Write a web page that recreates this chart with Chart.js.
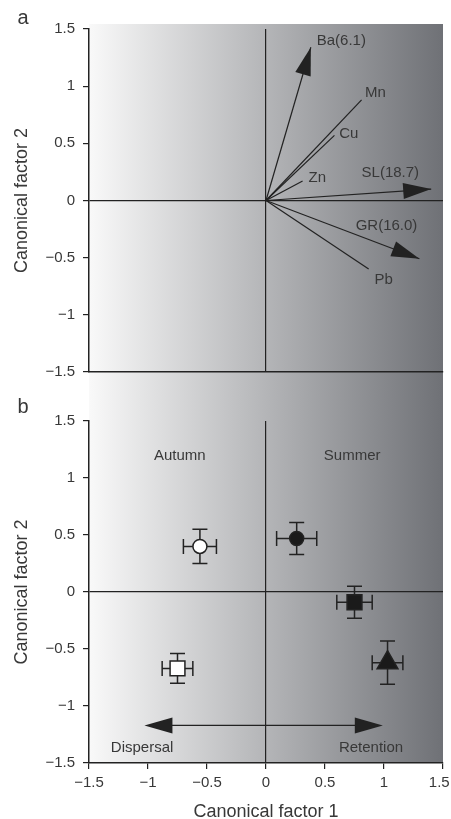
<!DOCTYPE html>
<html>
<head>
<meta charset="utf-8">
<script src="https://cdn.jsdelivr.net/npm/chart.js@4"></script>
<style>
  body { margin: 0; background: #fff; overflow: hidden; }
  #chartA { position: absolute; left: 0; top: 0; }
  #chartB { position: absolute; left: 0; top: 395px; }
</style>
</head>
<body>
<canvas id="chartA" width="451" height="395"></canvas>
<canvas id="chartB" width="451" height="430"></canvas>
<script>
// ---- panel a: canonical vectors ----
const vectorNames = ['Ba(6.1)', 'Mn', 'Cu', 'Zn', 'SL(18.7)', 'GR(16.0)', 'Pb'];
const vectorX = [0.38, 0.81, 0.58, 0.31, 1.40, 1.30, 0.87];
const vectorY = [1.34, 0.88, 0.57, 0.17, 0.10, -0.51, -0.60];
const vectorHead = [true, false, false, false, true, true, false];
const vectorLabelX = [0.43, 0.84, 0.62, 0.36, 0.81, 0.76, 0.92];
const vectorLabelY = [1.40, 0.945, 0.58, 0.20, 0.245, -0.22, -0.69];

// ---- panel b: group centroids with errors ----
const groupX = [-0.56, 0.26, 0.75, -0.75, 1.03];
const groupY = [0.40, 0.47, -0.09, -0.67, -0.62];
const groupXErr = [0.14, 0.17, 0.15, 0.13, 0.13];
const groupYErr = [0.15, 0.14, 0.14, 0.13, 0.19];
const groupShape = ['circle', 'circle', 'rect', 'rect', 'triangle'];
const groupFilled = [false, true, true, false, true];

const noteText = ['Autumn', 'Summer', 'Dispersal', 'Retention'];
const noteX = [-0.73, 0.73, -1.05, 0.89];
const noteY = [1.19, 1.19, -1.37, -1.37];
const gradientSpan = [-1.03, 0.99];
const gradientLevel = -1.17;

const axisTicks = [-1.5, -1, -0.5, 0, 0.5, 1, 1.5];

const FONT = "'Liberation Sans', Arial, sans-serif";
const TEXT = '#383838';
const INK = '#222222';

function fmtTick(v) {
  const r = Math.round(v * 10) / 10;
  return r < 0 ? '\u2212' + Math.abs(r) : String(r);
}

function drawHead(ctx, x0, y0, x1, y1, len, half) {
  const a = Math.atan2(y1 - y0, x1 - x0);
  const bx = x1 - len * Math.cos(a), by = y1 - len * Math.sin(a);
  const px = -Math.sin(a) * half, py = Math.cos(a) * half;
  ctx.beginPath();
  ctx.moveTo(x1, y1);
  ctx.lineTo(bx + px, by + py);
  ctx.lineTo(bx - px, by - py);
  ctx.closePath();
  ctx.fill();
}

// grey shading behind the plot, continuous across both panels
const shadePlugin = {
  id: 'shade',
  beforeDraw(chart, args, opts) {
    const { ctx, chartArea: a } = chart;
    const top = opts.fromCanvasTop ? 0 : a.top - 5;
    const bottom = opts.toCanvasBottom ? chart.height : a.bottom;
    const g = ctx.createLinearGradient(a.left, 0, a.right, 0);
    g.addColorStop(0, '#f9f9f9');
    g.addColorStop(1, '#6f7176');
    ctx.save();
    ctx.fillStyle = g;
    ctx.fillRect(a.left, top, a.right - a.left, bottom - top);
    ctx.restore();
  }
};

const letterPlugin = {
  id: 'letter',
  afterDraw(chart, args, opts) {
    const ctx = chart.ctx;
    ctx.save();
    ctx.font = '20px ' + FONT;
    ctx.fillStyle = TEXT;
    ctx.textAlign = 'center';
    ctx.textBaseline = 'middle';
    ctx.fillText(opts.text, opts.x, chart.chartArea.top - opts.above);
    ctx.restore();
  }
};

function yAxis() {
  return {
    type: 'linear', min: -1.5, max: 1.5,
    afterBuildTicks: s => { s.ticks = axisTicks.map(v => ({ value: v })); },
    ticks: { padding: 8, color: TEXT, font: { family: FONT, size: 15 }, callback: fmtTick },
    grid: {
      drawOnChartArea: true, drawTicks: true, tickLength: 6, lineWidth: 1.2,
      color: c => (c.tick && c.tick.value === 0 ? INK : 'rgba(0,0,0,0)'),
      tickColor: INK
    },
    border: { display: true, color: INK, width: 1.5 },
    title: { display: true, text: 'Canonical factor 2', color: TEXT, font: { family: FONT, size: 18 }, padding: { top: 11, bottom: 0 } },
    afterFit: s => { s.width = 89; s.paddingTop = 0; s.paddingBottom = 0; }
  };
}

// ---- chart a ----
new Chart(document.getElementById('chartA'), {
  type: 'scatter',
  data: {
    datasets: vectorNames.map((n, i) => ({
      label: n,
      data: [{ x: 0, y: 0 }, { x: vectorX[i], y: vectorY[i] }],
      showLine: true, borderColor: INK, borderWidth: 1.2, pointRadius: 0, fill: false
    }))
  },
  options: {
    responsive: false, animation: false,
    layout: { autoPadding: false, padding: { top: 29, right: 8, left: 0, bottom: 0 } },
    scales: {
      x: {
        type: 'linear', min: -1.5, max: 1.5,
        afterBuildTicks: s => { s.ticks = axisTicks.map(v => ({ value: v })); },
        ticks: { display: false },
        grid: { drawTicks: false, lineWidth: 1.2, color: c => (c.tick && c.tick.value === 0 ? INK : 'rgba(0,0,0,0)') },
        border: { display: true, color: INK, width: 1.5 },
        afterFit: s => { s.height = 23; s.paddingLeft = 0; s.paddingRight = 0; }
      },
      y: yAxis()
    },
    plugins: {
      legend: { display: false }, tooltip: { enabled: false },
      shade: { toCanvasBottom: true },
      letter: { text: 'a', x: 23, above: 11 }
    }
  },
  plugins: [shadePlugin, letterPlugin, {
    id: 'vectors',
    afterDatasetsDraw(chart) {
      const { ctx, scales: { x, y } } = chart;
      ctx.save();
      ctx.fillStyle = INK;
      vectorNames.forEach((n, i) => {
        if (vectorHead[i]) {
          drawHead(ctx, x.getPixelForValue(0), y.getPixelForValue(0),
            x.getPixelForValue(vectorX[i]), y.getPixelForValue(vectorY[i]), 28, 8);
        }
      });
      ctx.font = '15px ' + FONT;
      ctx.fillStyle = TEXT;
      ctx.textAlign = 'left';
      ctx.textBaseline = 'middle';
      vectorNames.forEach((n, i) => {
        ctx.fillText(n, x.getPixelForValue(vectorLabelX[i]), y.getPixelForValue(vectorLabelY[i]));
      });
      ctx.restore();
    }
  }]
});

// ---- chart b ----
new Chart(document.getElementById('chartB'), {
  type: 'scatter',
  data: {
    datasets: [{
      data: groupX.map((v, i) => ({ x: v, y: groupY[i] })),
      pointStyle: groupShape,
      pointRadius: groupShape.map(s => (s === 'circle' ? 7 : s === 'rect' ? 10.5 : 12)),
      backgroundColor: groupFilled.map(f => (f ? '#1a1a1a' : '#ffffff')),
      borderColor: INK,
      borderWidth: 1.5
    }]
  },
  options: {
    responsive: false, animation: false,
    layout: { autoPadding: false, padding: { top: 26, right: 8, left: 0, bottom: 0 } },
    scales: {
      x: {
        type: 'linear', min: -1.5, max: 1.5,
        afterBuildTicks: s => { s.ticks = axisTicks.map(v => ({ value: v })); },
        ticks: {
          padding: 5, color: TEXT, font: { family: FONT, size: 15 }, maxRotation: 0,
          // last label nudged inward so it stays inside the page
          callback: v => (v === 1.5 ? fmtTick(v) + '\u2002' : fmtTick(v))
        },
        grid: {
          drawOnChartArea: true, drawTicks: true, tickLength: 6, lineWidth: 1.2,
          color: c => (c.tick && c.tick.value === 0 ? INK : 'rgba(0,0,0,0)'),
          tickColor: INK
        },
        border: { display: true, color: INK, width: 1.5 },
        title: { display: true, text: 'Canonical factor 1', color: TEXT, font: { family: FONT, size: 18 }, padding: { top: 0, bottom: 2 } },
        afterFit: s => { s.height = 62; s.paddingLeft = 0; s.paddingRight = 0; }
      },
      y: yAxis()
    },
    plugins: {
      legend: { display: false }, tooltip: { enabled: false },
      shade: { fromCanvasTop: true },
      letter: { text: 'b', x: 23, above: 14 }
    }
  },
  plugins: [shadePlugin, letterPlugin, {
    id: 'errorBars',
    beforeDatasetsDraw(chart) {
      const { ctx, scales: { x, y } } = chart;
      ctx.save();
      ctx.strokeStyle = INK;
      ctx.lineWidth = 1.5;
      groupX.forEach((v, i) => {
        const cx = x.getPixelForValue(v), cy = y.getPixelForValue(groupY[i]);
        const x0 = x.getPixelForValue(v - groupXErr[i]), x1 = x.getPixelForValue(v + groupXErr[i]);
        const y0 = y.getPixelForValue(groupY[i] - groupYErr[i]), y1 = y.getPixelForValue(groupY[i] + groupYErr[i]);
        const cap = 7.5;
        ctx.beginPath();
        ctx.moveTo(x0, cy); ctx.lineTo(x1, cy);
        ctx.moveTo(cx, y0); ctx.lineTo(cx, y1);
        ctx.moveTo(x0, cy - cap); ctx.lineTo(x0, cy + cap);
        ctx.moveTo(x1, cy - cap); ctx.lineTo(x1, cy + cap);
        ctx.moveTo(cx - cap, y0); ctx.lineTo(cx + cap, y0);
        ctx.moveTo(cx - cap, y1); ctx.lineTo(cx + cap, y1);
        ctx.stroke();
      });
      ctx.restore();
    },
    afterDatasetsDraw(chart) {
      const { ctx, scales: { x, y } } = chart;
      ctx.save();
      const xa = x.getPixelForValue(gradientSpan[0]), xb = x.getPixelForValue(gradientSpan[1]);
      const ya = y.getPixelForValue(gradientLevel);
      ctx.strokeStyle = INK;
      ctx.fillStyle = INK;
      ctx.lineWidth = 1.2;
      ctx.beginPath(); ctx.moveTo(xa + 20, ya); ctx.lineTo(xb - 20, ya); ctx.stroke();
      drawHead(ctx, xb, ya, xa, ya, 28, 8);
      drawHead(ctx, xa, ya, xb, ya, 28, 8);
      ctx.font = '15px ' + FONT;
      ctx.fillStyle = TEXT;
      ctx.textAlign = 'center';
      ctx.textBaseline = 'middle';
      noteText.forEach((t, i) => {
        ctx.fillText(t, x.getPixelForValue(noteX[i]), y.getPixelForValue(noteY[i]));
      });
      ctx.restore();
    }
  }]
});
</script>
</body>
</html>
